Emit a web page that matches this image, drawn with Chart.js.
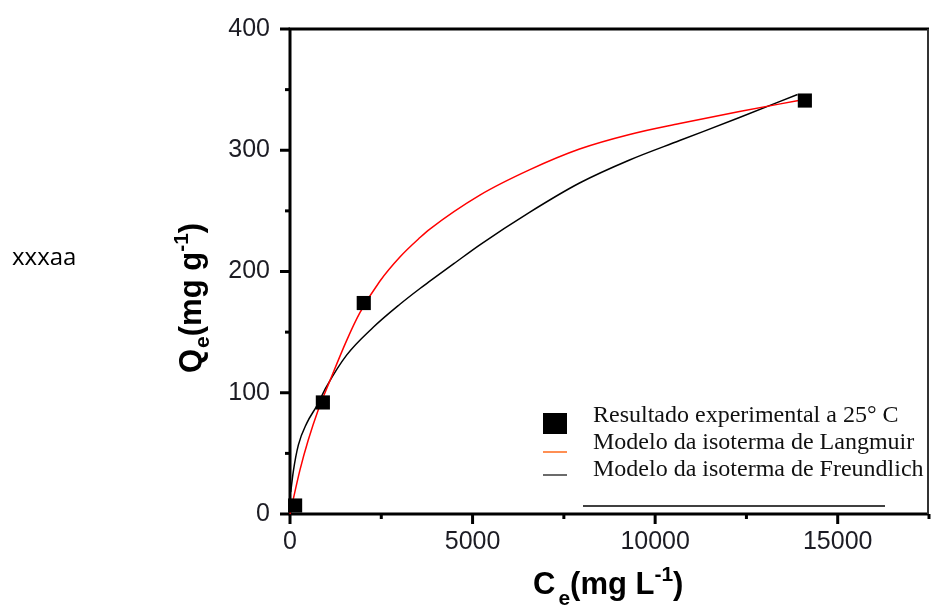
<!DOCTYPE html>
<html>
<head>
<meta charset="utf-8">
<script src="https://cdn.jsdelivr.net/npm/chart.js@4.4.1/dist/chart.umd.min.js"></script>
<style>
  html, body { margin: 0; padding: 0; background: #fff; }
  #wrap { position: relative; width: 931px; height: 610px; }
</style>
</head>
<body>
<div id="wrap"><canvas id="chart" width="931" height="610"></canvas></div>
<script>
// Pontos experimentais (Ce em mg/L, Qe em mg/g)
const ceExp = [140, 900, 2020, 14100];
const qeExp = [7, 92, 174, 341];

// Curva do modelo de Langmuir
const ceLangmuir = [0, 270, 500, 775, 1094, 1550, 1915, 2460, 3010, 3560, 3830, 5200, 6570, 7930, 9300, 10670, 12310, 13930];
const qeLangmuir = [0, 36, 61, 86, 110, 143, 166, 192, 212, 228, 235, 263, 284, 301, 313, 322, 332, 341];

// Curva do modelo de Freundlich
const ceFreundlich = [20, 90, 230, 460, 730, 1000, 1550, 2280, 3010, 3560, 3830, 4513, 5200, 6570, 7930, 9300, 10670, 12310, 13900];
const qeFreundlich = [18, 35, 57, 75, 89, 105, 131, 154, 173, 186, 192, 207, 222, 249, 273, 292, 308, 327, 346];

const xTicks = [0, 5000, 10000, 15000];
const yTicks = [0, 100, 200, 300, 400];

const labels = [
  "Resultado experimental a 25\u00b0 C",
  "Modelo da isoterma de Langmuir",
  "Modelo da isoterma de Freundlich"
];

const toPoints = (xs, ys) => xs.map((x, i) => ({ x: x, y: ys[i] }));

const tickFont = { family: "'Liberation Sans', Arial, sans-serif", size: 25 };
const tickColor = "#1c1c24";

// sem margem extra das escalas, a área do gráfico fica só com o padding do layout
function noPad(s) {
  s.paddingLeft = 0; s.paddingRight = 0; s.paddingTop = 0; s.paddingBottom = 0;
}

// Moldura, ticks, títulos dos eixos e legenda
const framePlugin = {
  id: "frame",
  beforeDatasetsDraw(chart) {
    const { ctx, chartArea: a, scales } = chart;
    const xs = scales.x, ys = scales.y;
    ctx.save();
    ctx.strokeStyle = "#000";
    ctx.lineCap = "butt";
    ctx.lineWidth = 3;
    for (let v = 0; v <= 17500; v += 2500) {
      const px = xs.getPixelForValue(v);
      const len = v % 5000 === 0 ? 10 : 5;
      ctx.beginPath(); ctx.moveTo(px, a.bottom); ctx.lineTo(px, a.bottom + len); ctx.stroke();
    }
    for (let v = 0; v <= 400; v += 50) {
      const py = ys.getPixelForValue(v);
      const len = v % 100 === 0 ? 10 : 5;
      ctx.beginPath(); ctx.moveTo(a.left, py); ctx.lineTo(a.left - len, py); ctx.stroke();
    }
    // eixos
    ctx.beginPath();
    ctx.moveTo(a.left, a.top - 1.5); ctx.lineTo(a.left, a.bottom + 1.5);
    ctx.moveTo(a.left - 1.5, a.bottom); ctx.lineTo(a.right, a.bottom);
    ctx.moveTo(a.left - 1.5, a.top); ctx.lineTo(a.right, a.top);
    ctx.stroke();
    ctx.lineWidth = 2;
    ctx.strokeStyle = "#333";
    ctx.beginPath();
    ctx.moveTo(a.right - 1, a.top); ctx.lineTo(a.right - 1, a.bottom);
    ctx.stroke();
    ctx.restore();
  },
  afterDraw(chart) {
    const { ctx } = chart;
    ctx.save();
    ctx.fillStyle = "#000";

    const big = "bold 31px 'Liberation Sans', Arial, sans-serif";
    const small = "bold 21px 'Liberation Sans', Arial, sans-serif";
    const drawTitle = (parts) => {
      let x = 0;
      parts.forEach(p => {
        ctx.font = p.f;
        ctx.fillText(p.t, x + (p.gap || 0), p.dy);
        x += (p.gap || 0) + ctx.measureText(p.t).width;
      });
    };
    ctx.textBaseline = "alphabetic";
    ctx.textAlign = "left";

    // título eixo x: Ce(mg L-1)
    ctx.save();
    ctx.translate(533, 594);
    drawTitle([
      { t: "C", f: big, dy: 0 },
      { t: "e", f: small, dy: 11, gap: 3 },
      { t: "(mg L", f: big, dy: 0 },
      { t: "-1", f: small, dy: -13 },
      { t: ")", f: big, dy: 0 }
    ]);
    ctx.restore();

    // título eixo y: Qe(mg g-1)
    ctx.save();
    ctx.translate(201, 373);
    ctx.rotate(-Math.PI / 2);
    drawTitle([
      { t: "Q", f: big, dy: 0 },
      { t: "e", f: small, dy: 8, gap: 1 },
      { t: "(mg g", f: big, dy: 0 },
      { t: "-1", f: small, dy: -13 },
      { t: ")", f: big, dy: 0 }
    ]);
    ctx.restore();

    // texto solto à esquerda
    ctx.font = "24px 'Open Sans', sans-serif";
    ctx.fillText("xxxaa", 12, 265);

    // legenda
    ctx.font = "24px 'Liberation Serif', 'Times New Roman', serif";
    ctx.fillStyle = "#111";
    const rows = [422, 449, 476];
    rows.forEach((y, i) => ctx.fillText(labels[i], 593, y));
    ctx.fillStyle = "#000";
    ctx.fillRect(543, 413, 24, 21);
    ctx.lineWidth = 1.5;
    ctx.strokeStyle = "#ff6a1a";
    ctx.beginPath(); ctx.moveTo(543, 452); ctx.lineTo(567, 452); ctx.stroke();
    ctx.strokeStyle = "#3a3a3a";
    ctx.beginPath(); ctx.moveTo(543, 475); ctx.lineTo(567, 475); ctx.stroke();
    ctx.strokeStyle = "#000";
    ctx.beginPath(); ctx.moveTo(583, 506); ctx.lineTo(885, 506); ctx.stroke();
    ctx.restore();
  }
};

new Chart(document.getElementById("chart"), {
  type: "scatter",
  data: {
    datasets: [
      {
        label: labels[1],
        data: toPoints(ceLangmuir, qeLangmuir),
        showLine: true,
        borderColor: "#ff0000",
        borderWidth: 1.5,
        pointRadius: 0,
        cubicInterpolationMode: "monotone",
        order: 2
      },
      {
        label: labels[2],
        data: toPoints(ceFreundlich, qeFreundlich),
        showLine: true,
        borderColor: "#000",
        borderWidth: 1.5,
        pointRadius: 0,
        cubicInterpolationMode: "monotone",
        order: 3
      },
      {
        label: labels[0],
        data: toPoints(ceExp, qeExp),
        pointStyle: "rect",
        pointRadius: 10,
        backgroundColor: "#000",
        borderColor: "#000",
        borderWidth: 0,
        order: 1
      }
    ]
  },
  options: {
    responsive: false,
    animation: false,
    clip: false,
    layout: { autoPadding: false, padding: { top: 29, right: 2, left: 0, bottom: 0 } },
    plugins: { legend: { display: false }, tooltip: { enabled: false } },
    scales: {
      x: {
        type: "linear",
        min: 0,
        max: 17500,
        afterFit(s) { s.height = 96; noPad(s); },
        grid: { display: false, drawTicks: false },
        border: { display: false },
        ticks: {
          stepSize: 2500,
          autoSkip: false,
          maxRotation: 0,
          padding: 13,
          font: tickFont,
          color: tickColor,
          callback: v => xTicks.includes(v) ? String(v) : ""
        }
      },
      y: {
        min: 0,
        max: 400,
        afterFit(s) { s.width = 290; noPad(s); },
        grid: { display: false, drawTicks: false },
        border: { display: false },
        ticks: {
          stepSize: 50,
          autoSkip: false,
          padding: 20,
          font: tickFont,
          color: tickColor,
          callback: v => yTicks.includes(v) ? String(v) : ""
        }
      }
    }
  },
  plugins: [framePlugin]
});
</script>
</body>
</html>
